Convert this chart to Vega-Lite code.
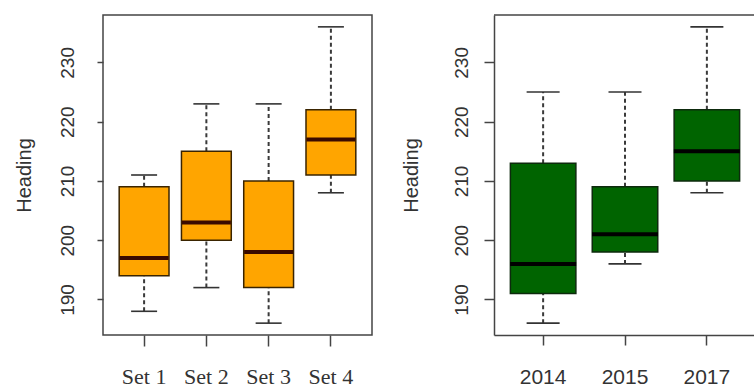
{
  "$schema": "https://vega.github.io/schema/vega-lite/v6.json",
  "padding": {"left": 13, "top": 14, "right": 0, "bottom": 0},
  "background": "white",
  "spacing": 28,
  "config": {
    "axis": {"grid": false, "labelColor": "#333", "titleColor": "#333", "tickColor": "#444", "tickWidth": 1.5, "titleFontWeight": "normal"},
    "tick": {"opacity": 1}
  },
  "hconcat": [
    {
      "width": 269,
      "height": 320,
      "view": {"stroke": "#444", "strokeWidth": 1.5},
      "data": {"values": [
        {"group": "Set 1", "lo": 188, "q1": 194, "med": 197, "q3": 209, "hi": 211},
        {"group": "Set 2", "lo": 192, "q1": 200, "med": 203, "q3": 215, "hi": 223},
        {"group": "Set 3", "lo": 186, "q1": 192, "med": 198, "q3": 210, "hi": 223},
        {"group": "Set 4", "lo": 208, "q1": 211, "med": 217, "q3": 222, "hi": 236}
      ]},
      "layer": [
        {
          "mark": {"type": "rule", "color": "#3a3a3a", "strokeWidth": 2, "strokeDash": [4, 3]},
          "encoding": {
            "x": {"field": "group", "type": "nominal", "sort": null, "scale": {"paddingInner": 0.2, "paddingOuter": 0.26},
              "axis": {"title": null, "domain": false, "labelAngle": 0, "labelFont": "Liberation Serif", "labelFontSize": 22, "tickSize": 11, "labelPadding": 37, "labelBaseline": "alphabetic"}},
            "y": {"field": "lo", "type": "quantitative", "scale": {"domain": [184, 238], "nice": false, "zero": false},
              "axis": {"title": "Heading", "values": [190, 200, 210, 220, 230], "domain": false, "labelAngle": -90, "labelAlign": "center", "labelBaseline": "alphabetic", "labelFont": "Liberation Sans", "labelFontSize": 19, "tickSize": 6, "labelPadding": 24, "titleFont": "Liberation Sans", "titleFontSize": 20, "titlePadding": 24}},
            "y2": {"field": "q1"}
          }
        },
        {
          "mark": {"type": "rule", "color": "#3a3a3a", "strokeWidth": 2, "strokeDash": [4, 3]},
          "encoding": {
            "x": {"field": "group", "type": "nominal", "sort": null},
            "y": {"field": "q3", "type": "quantitative"},
            "y2": {"field": "hi"}
          }
        },
        {
          "mark": {"type": "tick", "color": "#333", "thickness": 1.6, "size": 26, "opacity": 1},
          "encoding": {
            "x": {"field": "group", "type": "nominal", "sort": null},
            "y": {"field": "lo", "type": "quantitative"}
          }
        },
        {
          "mark": {"type": "tick", "color": "#333", "thickness": 1.6, "size": 26, "opacity": 1},
          "encoding": {
            "x": {"field": "group", "type": "nominal", "sort": null},
            "y": {"field": "hi", "type": "quantitative"}
          }
        },
        {
          "mark": {"type": "bar", "fill": "#FFA500", "stroke": "#3a2400", "strokeWidth": 1.5},
          "encoding": {
            "x": {"field": "group", "type": "nominal", "sort": null},
            "y": {"field": "q1", "type": "quantitative"},
            "y2": {"field": "q3"}
          }
        },
        {
          "mark": {"type": "tick", "color": "#3a0a00", "thickness": 4, "size": 49, "opacity": 1},
          "encoding": {
            "x": {"field": "group", "type": "nominal", "sort": null},
            "y": {"field": "med", "type": "quantitative"}
          }
        }
      ]
    },
    {
      "width": 262,
      "height": 320,
      "view": {"stroke": null},
      "data": {"values": [
        {"group": "2014", "lo": 186, "q1": 191, "med": 196, "q3": 213, "hi": 225},
        {"group": "2015", "lo": 196, "q1": 198, "med": 201, "q3": 209, "hi": 225},
        {"group": "2017", "lo": 208, "q1": 210, "med": 215, "q3": 222, "hi": 236}
      ]},
      "layer": [
        {
          "mark": {"type": "rule", "color": "#3a3a3a", "strokeWidth": 2, "strokeDash": [4, 3]},
          "encoding": {
            "x": {"field": "group", "type": "nominal", "sort": null, "scale": {"paddingInner": 0.2, "paddingOuter": 0.2},
              "axis": {"title": null, "domain": true, "domainColor": "#444", "domainWidth": 1.5, "labelAngle": 0, "labelFont": "Liberation Sans", "labelFontSize": 21, "tickSize": 10, "labelPadding": 38, "labelBaseline": "alphabetic"}},
            "y": {"field": "lo", "type": "quantitative", "scale": {"domain": [184, 238], "nice": false, "zero": false},
              "axis": {"title": "Heading", "values": [190, 200, 210, 220, 230], "domain": true, "domainColor": "#444", "domainWidth": 1.5, "labelAngle": -90, "labelAlign": "center", "labelBaseline": "alphabetic", "labelFont": "Liberation Sans", "labelFontSize": 19, "tickSize": 10, "labelPadding": 17, "titleFont": "Liberation Sans", "titleFontSize": 20, "titlePadding": 31}},
            "y2": {"field": "q1"}
          }
        },
        {
          "mark": {"type": "rule", "color": "#3a3a3a", "strokeWidth": 2, "strokeDash": [4, 3]},
          "encoding": {
            "x": {"field": "group", "type": "nominal", "sort": null},
            "y": {"field": "q3", "type": "quantitative"},
            "y2": {"field": "hi"}
          }
        },
        {
          "mark": {"type": "tick", "color": "#333", "thickness": 1.6, "size": 33, "opacity": 1},
          "encoding": {
            "x": {"field": "group", "type": "nominal", "sort": null},
            "y": {"field": "lo", "type": "quantitative"}
          }
        },
        {
          "mark": {"type": "tick", "color": "#333", "thickness": 1.6, "size": 33, "opacity": 1},
          "encoding": {
            "x": {"field": "group", "type": "nominal", "sort": null},
            "y": {"field": "hi", "type": "quantitative"}
          }
        },
        {
          "mark": {"type": "bar", "fill": "#006400", "stroke": "#0d2a0d", "strokeWidth": 1.5},
          "encoding": {
            "x": {"field": "group", "type": "nominal", "sort": null},
            "y": {"field": "q1", "type": "quantitative"},
            "y2": {"field": "q3"}
          }
        },
        {
          "mark": {"type": "tick", "color": "#000", "thickness": 4, "size": 66, "opacity": 1},
          "encoding": {
            "x": {"field": "group", "type": "nominal", "sort": null},
            "y": {"field": "med", "type": "quantitative"}
          }
        },
        {
          "data": {"values": [{"top": 238}]},
          "mark": {"type": "rule", "color": "#444", "strokeWidth": 1.5},
          "encoding": {
            "y": {"field": "top", "type": "quantitative"}
          }
        }
      ]
    }
  ]
}
